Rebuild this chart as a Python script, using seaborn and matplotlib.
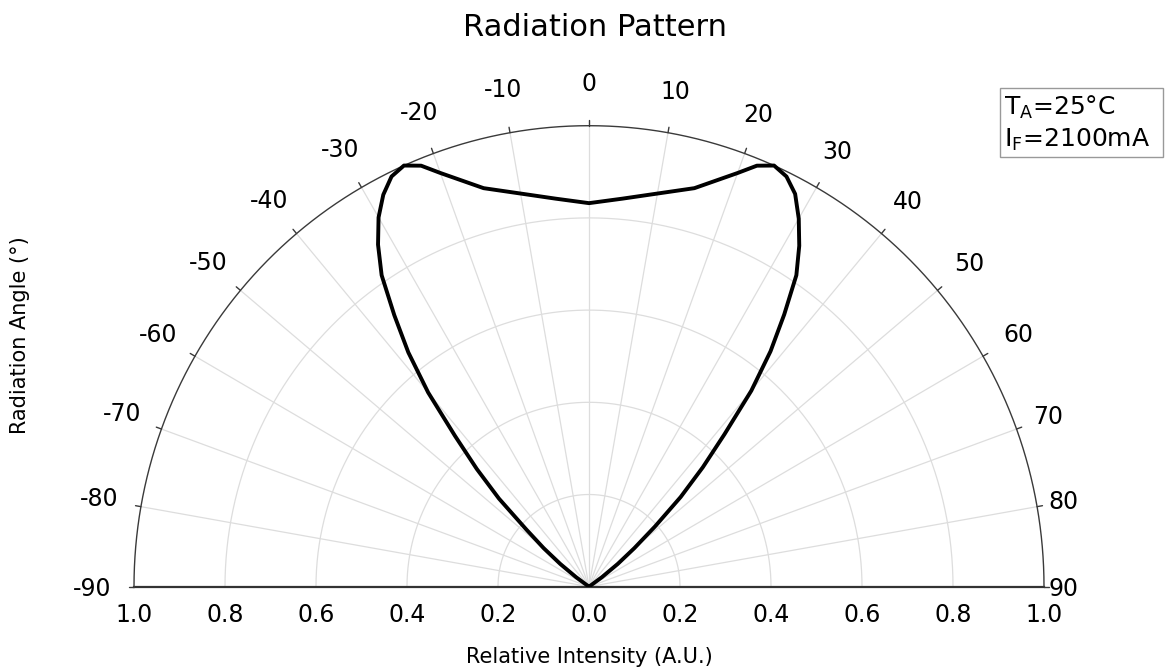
import numpy as np
import pandas as pd
import matplotlib
matplotlib.use("Agg")
import matplotlib.pyplot as plt
from matplotlib.patches import Rectangle
import seaborn as sns

# ---- data ----
angles_deg = [-90, -56, -54, -52, -50, -48, -46, -44, -42, -40, -38, -36, -34, -32,
              -30, -28, -26, -24, -22, -20, -15, -10, -5, 0,
              5, 10, 15, 20, 22, 24, 26, 28, 30, 32, 34, 36, 38, 40,
              42, 44, 46, 48, 50, 52, 54, 56, 90]
intensity = [0.0, 0.0, 0.035, 0.08, 0.13, 0.185, 0.275, 0.355, 0.44, 0.55, 0.645, 0.728, 0.815, 0.875,
             0.925, 0.963, 0.99, 1.0, 0.985, 0.955, 0.895, 0.866, 0.845, 0.832,
             0.845, 0.866, 0.895, 0.955, 0.985, 1.0, 0.99, 0.965, 0.922, 0.872, 0.815, 0.73, 0.648, 0.555,
             0.445, 0.36, 0.28, 0.195, 0.13, 0.08, 0.035, 0.0, 0.0]
grid_radii = [0.2, 0.4, 0.6, 0.8]
spoke_angles = list(range(-80, 81, 10))
angle_labels = list(range(-90, 91, 10))
x_ticks = [-1.0, -0.8, -0.6, -0.4, -0.2, 0.0, 0.2, 0.4, 0.6, 0.8, 1.0]
x_tick_labels = ["1.0", "0.8", "0.6", "0.4", "0.2", "0.0", "0.2", "0.4", "0.6", "0.8", "1.0"]

sns.set_theme(style="white")
plt.rcParams["font.family"] = ["DejaVu Sans"]
plt.rcParams["mathtext.default"] = "regular"
plt.rcParams["text.color"] = "black"

W, H = 1165, 672
fig = plt.figure(figsize=(W / 100, H / 100), dpi=100)
cx, cy, rx, ry = 589, 586.7, 455, 461
ax = fig.add_axes([(cx - rx) / W, (H - cy) / H, 2 * rx / W, ry / H])

grid_c = "#dddddd"
dark = "#3a3a3a"
th = np.radians(np.linspace(-90, 90, 721))
for rr in grid_radii:
    ax.plot(rr * np.sin(th), rr * np.cos(th), color=grid_c, lw=0.9, zorder=1)
for a in spoke_angles:
    t = np.radians(a)
    ax.plot([0, np.sin(t)], [0, np.cos(t)], color=grid_c, lw=0.9, zorder=1)
ax.plot(np.sin(th), np.cos(th), color=dark, lw=1.0, clip_on=False, zorder=3)
for a in angle_labels:
    t = np.radians(a)
    ax.plot([np.sin(t), 1.012 * np.sin(t)], [np.cos(t), 1.012 * np.cos(t)],
            color=dark, lw=1.0, clip_on=False, zorder=3)
    if a < 0:
        rl = 1.093
    else:
        rl = 1.042 + 0.048 * min(1.0, np.cos(t) / 0.5)
    ax.text(rl * np.sin(t), rl * np.cos(t) - (0.004 if abs(a) == 90 else 0), str(a),
            ha="center", va="center", fontsize=17, color="black", clip_on=False)

# ---- curve ----
a_rad = np.radians(angles_deg)
df = pd.DataFrame({"x": np.array(intensity) * np.sin(a_rad),
                   "y": np.array(intensity) * np.cos(a_rad)})
sns.lineplot(data=df, x="x", y="y", sort=False, estimator=None, color="black",
             lw=2.8, ax=ax, zorder=4)

ax.set_xlim(-1, 1)
ax.set_ylim(0, 1)
ax.set_xticks(x_ticks)
ax.set_xticklabels(x_tick_labels)
ax.set_yticks([])
ax.set_xlabel("")
ax.set_ylabel("")
for s in ["top", "left", "right"]:
    ax.spines[s].set_visible(False)
ax.spines["bottom"].set_color("#333333")
ax.spines["bottom"].set_linewidth(1.6)
ax.tick_params(axis="x", length=0, pad=12, labelsize=17, colors="black")
ax.set_facecolor("none")

fig.text(595 / W, 1 - 28 / H, "Radiation Pattern", ha="center", va="center", fontsize=22,
         color="black")
fig.text(589 / W, 1 - 657 / H, "Relative Intensity (A.U.)", ha="center", va="center",
         fontsize=15, color="black")
fig.text(20 / W, 1 - 335 / H, "Radiation Angle (°)", ha="center", va="center",
         fontsize=15, rotation=90, color="black")

fig.add_artist(Rectangle((1000 / W, 1 - 157 / H), 163 / W, 69 / H, transform=fig.transFigure,
                         fill=False, ec="#999999", lw=1.0))
fig.text(1004 / W, 1 - 107 / H, r"T$_{A}$=25°C", ha="left", va="center", fontsize=18,
         color="black")
fig.text(1004 / W, 1 - 140 / H, r"I$_{F}$=2100mA", ha="left", va="center", fontsize=18,
         color="black")

fig.savefig("out.png", dpi=100)
